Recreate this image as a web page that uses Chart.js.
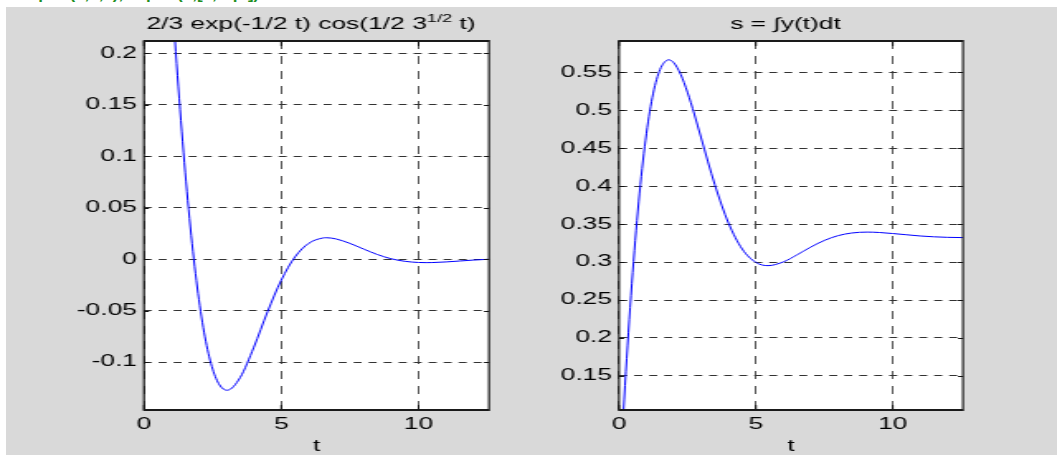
<!DOCTYPE html>
<html>
<head>
<meta charset="utf-8">
<title>ezplot</title>
<script src="https://cdn.jsdelivr.net/npm/chart.js@4.4.1/dist/chart.umd.min.js"></script>
<style>
  html, body { margin: 0; padding: 0; background: #fff; width: 1057px; height: 455px; overflow: hidden; }
  #cmd { position: absolute; left: 8px; top: -16px; font: bold 17px "Liberation Sans", Arial, sans-serif; color: #1f8f1f; white-space: pre; }
  #fig { position: absolute; left: 6px; top: 7px; right: 0; bottom: 0; background: #d9d9d9; }
  canvas { position: absolute; top: 0; }
</style>
</head>
<body>
<div id="cmd">subplot(1,2,2), ezplot(s,[0,4*pi])</div>
<div id="fig"></div>
<canvas id="plotY"></canvas>
<canvas id="plotS"></canvas>
<script>
// --- datos ---
// izquierda: y(t) = 2/3 exp(-t/2) cos(sqrt(3)/2 t)
const tY = [0, 0.25, 0.5, 0.75, 1, 1.25, 1.5, 1.75, 2, 2.25, 2.5, 2.75, 3.023, 3.5, 4, 4.5, 5, 5.5, 6, 6.5, 6.651, 7, 7.5, 8, 8.5, 9, 9.5, 10, 10.278, 10.5, 11, 11.5, 12, 12.5, 12.566];
const yVals = [0.6667, 0.5746, 0.4713, 0.3649, 0.2620, 0.1674, 0.0845, 0.0153, -0.0394, -0.0798, -0.1069, -0.1222, -0.1274, -0.1151, -0.0856, -0.0511, -0.0204, 0.0022, 0.0154, 0.0205, 0.0208, 0.0196, 0.0153, 0.0098, 0.0045, 0.0004, -0.0021, -0.00324, -0.00338, -0.00331, -0.0027, -0.0018, -0.0009, -0.0002, -0.0001];

// derecha: s = integral de y
const tS = [0, 0.25, 0.5, 0.75, 1, 1.25, 1.5, 1.75, 1.814, 2, 2.25, 2.5, 2.75, 3, 3.5, 4, 4.5, 5, 5.441, 6, 6.5, 7, 7.5, 8, 8.5, 9.069, 9.5, 10, 10.5, 11, 11.5, 12, 12.5, 12.566];
const sVals = [0, 0.1555, 0.2864, 0.3909, 0.4691, 0.5226, 0.5538, 0.5660, 0.5665, 0.5627, 0.5475, 0.5239, 0.4950, 0.4636, 0.4020, 0.3514, 0.3172, 0.2996, 0.2953, 0.3002, 0.3095, 0.3197, 0.3285, 0.3348, 0.3383, 0.3395, 0.3390, 0.3376, 0.3360, 0.3344, 0.3333, 0.3326, 0.3323, 0.3323];

// ticks
const xTicks = [0, 5, 10];
const yTicksY = [-0.1, -0.05, 0, 0.05, 0.1, 0.15, 0.2];
const yTicksS = [0.15, 0.2, 0.25, 0.3, 0.35, 0.4, 0.45, 0.5, 0.55];
const T_MAX = 12.566;

// la figura original esta estirada en horizontal
const SX = 1.65;
const FONT = '"Liberation Sans", Arial, Helvetica, sans-serif';
Chart.defaults.font.family = FONT;
Chart.defaults.color = '#000';

// fondo blanco, caja, marcas interiores y titulo
const framePlugin = {
    id: 'frame',
    beforeDraw(chart) {
        const { ctx, chartArea: a } = chart;
        ctx.save();
        ctx.fillStyle = '#fff';
        ctx.fillRect(a.left, a.top, a.right - a.left, a.bottom - a.top);
        ctx.restore();
    },
    afterDraw(chart, args, opts) {
        const { ctx, chartArea: a, scales } = chart;
        const sx = opts.sx;
        ctx.save();
        ctx.strokeStyle = '#111';
        ctx.lineWidth = 1;
        ctx.beginPath();
        scales.x.ticks.forEach(tk => {
            const px = scales.x.getPixelForValue(tk.value);
            ctx.moveTo(px, a.bottom); ctx.lineTo(px, a.bottom - 5);
            ctx.moveTo(px, a.top); ctx.lineTo(px, a.top + 5);
        });
        scales.y.ticks.forEach(tk => {
            const py = Math.round(scales.y.getPixelForValue(tk.value)) + 0.5;
            ctx.moveTo(a.left, py); ctx.lineTo(a.left + 5 / sx, py);
            ctx.moveTo(a.right, py); ctx.lineTo(a.right - 5 / sx, py);
        });
        ctx.stroke();

        ctx.strokeStyle = '#1a1a1a';
        ctx.lineWidth = 2;
        ctx.beginPath();
        ctx.moveTo(a.left, a.top); ctx.lineTo(a.right, a.top);
        ctx.moveTo(a.left, a.bottom); ctx.lineTo(a.right, a.bottom);
        ctx.stroke();
        ctx.lineWidth = 1.2;
        ctx.beginPath();
        ctx.moveTo(a.left, a.top - 1); ctx.lineTo(a.left, a.bottom + 1);
        ctx.moveTo(a.right, a.top - 1); ctx.lineTo(a.right, a.bottom + 1);
        ctx.stroke();

        // titulo con superindice
        const parts = opts.title;
        ctx.fillStyle = '#000';
        ctx.textBaseline = 'alphabetic';
        ctx.textAlign = 'left';
        let total = 0;
        parts.forEach(p => {
            ctx.font = p.size + 'px ' + FONT;
            p.w = ctx.measureText(p.text).width;
            total += p.w;
        });
        let x = (a.left + a.right) / 2 - 5.5 / sx - total / 2;
        parts.forEach(p => {
            ctx.font = p.size + 'px ' + FONT;
            ctx.fillText(p.text, x, 29 - p.rise);
            x += p.w;
        });
        ctx.restore();
    }
};

function makePlot(id, cssLeft, cssWidth, areaLeft, areaRight, tData, vData, yMin, yMax, yTicks, title) {
    const canvas = document.getElementById(id);
    const w = Math.round(cssWidth / SX);
    const sx = cssWidth / w;
    canvas.width = w;
    canvas.height = 455;
    canvas.style.left = cssLeft + 'px';
    canvas.style.width = cssWidth + 'px';
    canvas.style.height = '455px';

    return new Chart(canvas.getContext('2d'), {
        type: 'line',
        data: {
            datasets: [{
                data: tData.map((t, i) => ({ x: t, y: vData[i] })),
                borderColor: '#0000ff',
                borderWidth: 1,
                pointRadius: 0,
                fill: false,
                cubicInterpolationMode: 'monotone'
            }]
        },
        options: {
            responsive: false,
            animation: false,
            layout: { autoPadding: false, padding: { left: 0, right: (cssWidth - areaRight) / sx, top: 41, bottom: 0 } },
            elements: { line: { capBezierPoints: false } },
            plugins: {
                legend: { display: false },
                tooltip: { enabled: false },
                frame: { sx: sx, title: title }
            },
            scales: {
                x: {
                    type: 'linear',
                    min: 0,
                    max: T_MAX,
                    afterBuildTicks: s => { s.ticks = xTicks.map(v => ({ value: v })); },
                    afterFit: s => { s.height = 45; },
                    ticks: { font: { size: 16 }, padding: 5, autoSkip: false, maxRotation: 0 },
                    grid: { color: '#555', lineWidth: 1, drawTicks: false },
                    border: { display: false, dash: [8, 7] },
                    title: { display: true, text: 't', font: { size: 16, lineHeight: 1 }, padding: { top: 0, bottom: 0 } }
                },
                y: {
                    type: 'linear',
                    min: yMin,
                    max: yMax,
                    afterBuildTicks: s => { s.ticks = yTicks.map(v => ({ value: v })); },
                    afterFit: s => { s.width = areaLeft / sx; },
                    ticks: { font: { size: 16 }, padding: 7 / sx, callback: v => String(+v.toFixed(4)) },
                    grid: { color: '#333', lineWidth: 1, drawTicks: false },
                    border: { display: false, dash: [8 / sx, 7 / sx] }
                }
            }
        },
        plugins: [framePlugin]
    });
}

makePlot('plotY', 0, 530, 144, 489, tY, yVals, -0.1466, 0.2120, yTicksY, [
    { text: '2/3 exp(-1/2 t) cos(1/2 3', size: 16, rise: 0 },
    { text: '1/2', size: 11, rise: 7 },
    { text: ' t)', size: 16, rise: 0 }
]);

makePlot('plotS', 530, 527, 89, 433, tS, sVals, 0.1051, 0.5913, yTicksS, [
    { text: 's = \u222By(t)dt', size: 16, rise: 0 }
]);
</script>
</body>
</html>
